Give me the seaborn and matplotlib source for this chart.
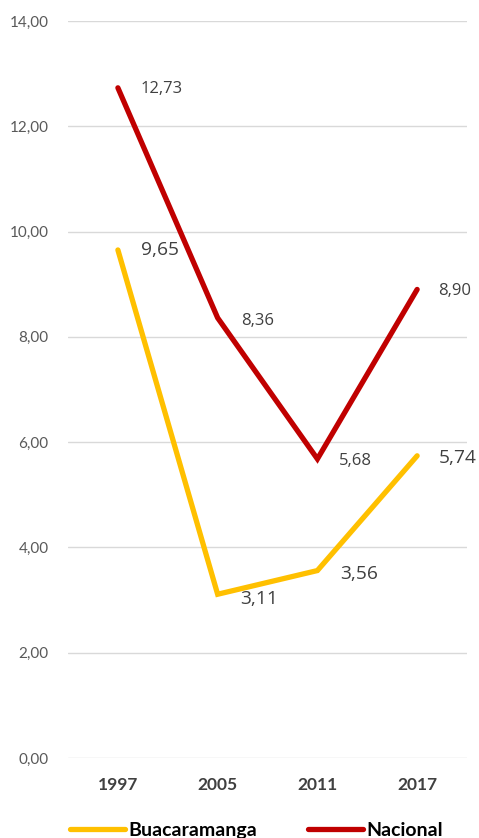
import matplotlib
matplotlib.use("Agg")
import matplotlib.pyplot as plt
import seaborn as sns
import pandas as pd
from matplotlib.lines import Line2D

years = ["1997", "2005", "2011", "2017"]
buca = [9.65, 3.11, 3.56, 5.74]
nacional = [12.73, 8.36, 5.68, 8.90]
series_names = ["Buacaramanga", "Nacional"]
colors = ["#FFC000", "#C00000"]

df = pd.DataFrame({
    "pos": list(range(len(years))) * 2,
    "value": buca + nacional,
    "serie": [series_names[0]] * 4 + [series_names[1]] * 4,
})

sns.set_style("white")
plt.rcParams["font.family"] = ["Lato", "DejaVu Sans"]

fig = plt.figure(figsize=(4.79, 8.38), dpi=100)
ax = fig.add_axes([0.142, 0.0955, 0.833, 0.8795])

sns.lineplot(data=df, x="pos", y="value", hue="serie", palette=colors,
             linewidth=3.8, ax=ax, legend=False, sort=False)
for line in ax.get_lines():
    line.set_solid_joinstyle("miter")
    line.set_solid_capstyle("round")

ax.set_xlim(-0.5, 3.5)
ax.set_ylim(0, 14)
yt = [0, 2, 4, 6, 8, 10, 12, 14]
ax.set_yticks(yt)
ax.set_yticklabels([f"{v:.2f}".replace(".", ",") for v in yt],
                   fontsize=11, color="#595959")
ax.set_xticks(range(len(years)))
ax.set_xticklabels(years, fontsize=12.5, fontweight="bold", color="#404040")
ax.tick_params(axis="x", length=0, pad=14)
ax.tick_params(axis="y", length=0, pad=14)
ax.yaxis.grid(True, color="#D9D9D9", linewidth=1)
ax.set_axisbelow(True)
for s in ax.spines.values():
    s.set_visible(False)
ax.set_xlabel("")
ax.set_ylabel("")

# data labels (offsets in pixels)
buca_off = [(23, 0), (23, -5), (23, -3), (22, -2)]
nac_off = [(23, -1), (23, -3), (22, -2), (21, -2)]
for i, v in enumerate(buca):
    ax.annotate(f"{v:.2f}".replace(".", ","), (i, v), xytext=buca_off[i],
                textcoords="offset pixels",
                ha="left", va="center", fontsize=13.8, color="#404040",
                family=["Open Sans", "DejaVu Sans"])
for i, v in enumerate(nacional):
    ax.annotate(f"{v:.2f}".replace(".", ","), (i, v), xytext=nac_off[i],
                textcoords="offset pixels",
                ha="left", va="center", fontsize=12, color="#404040",
                family=["Open Sans", "DejaVu Sans"])

handles = [Line2D([0], [0], color=c, linewidth=3.8) for c in colors]
leg = fig.legend(handles, series_names, loc="center", ncol=2,
                 bbox_to_anchor=(0.535, 0.009), frameon=False,
                 prop={"size": 14, "weight": "bold"},
                 handlelength=2.85, handletextpad=0.15, columnspacing=2.6)
for t in leg.get_texts():
    t.set_color("#000000")

fig.savefig("out.png", dpi=100)
